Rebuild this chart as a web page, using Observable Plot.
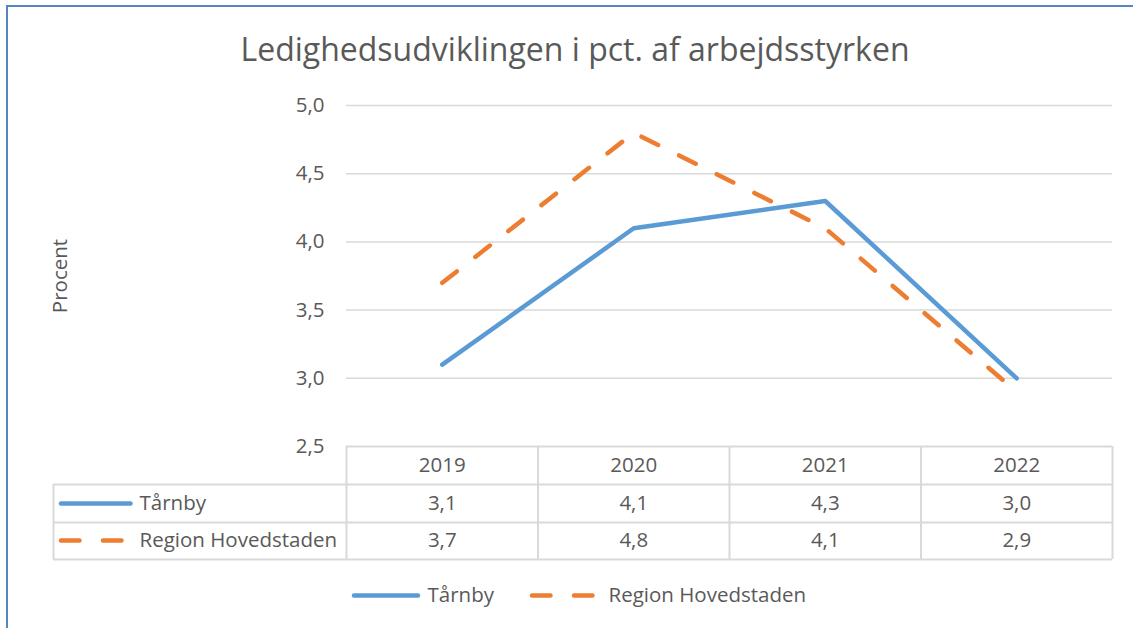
<!DOCTYPE html>
<html>
<head>
<meta charset="utf-8">
<script src="https://cdn.jsdelivr.net/npm/d3@7"></script>
<script src="https://cdn.jsdelivr.net/npm/@observablehq/plot@0.6"></script>
<style>
  html, body { margin: 0; padding: 0; background: #fff; }
  #wrap { position: relative; width: 1133px; height: 628px; overflow: hidden; font-family: "Open Sans", sans-serif; color: #595959; }
  #frame { position: absolute; left: 6px; top: 5px; width: 1200px; height: 700px; border-left: 2px solid #5585C5; border-top: 2px solid #5585C5; }
  #title { position: absolute; left: 0; width: 1150px; top: 27px; text-align: center; font-size: 32px; line-height: 44px; color: #595959; }
  #chart { position: absolute; left: 0; top: 80px; }
</style>
</head>
<body>
<div id="wrap">
  <div id="frame"></div>
  <div id="title">Ledighedsudviklingen i pct. af arbejdsstyrken</div>
  <div id="chart"></div>
</div>
<script>
const years = ["2019", "2020", "2021", "2022"];
const tarnby = [3.1, 4.1, 4.3, 3.0];
const region = [3.7, 4.8, 4.1, 2.9];
const seriesNames = ["Tårnby", "Region Hovedstaden"];
const yTicks = [2.5, 3.0, 3.5, 4.0, 4.5, 5.0];
const gridTicks = [3.0, 3.5, 4.0, 4.5, 5.0];
const yLabel = "Procent";

const blue = "#5B9BD5", orange = "#ED7D31", gridColor = "#d9d9d9", textColor = "#595959";
const fs = 20.5;
const fmt = v => d3.format(".1f")(v).replace(".", ",");

// layout (pixels)
const W = 1133, H = 548, mL = 346, mR = 21, mT = 25, mB = 182;
const yMin = 2.5, yMax = 5.0;
const pxPerX = (W - mL - mR) / years.length;
const pxPerY = (H - mB - mT) / (yMax - yMin);
const px2x = p => (p - mL) / pxPerX;          // page x pixel -> x units
const off2y = d => yMin - d / pxPerY;          // pixel offset below baseline -> y units
const rowEdges = [0, 38, 76, 113];
const rowMid = [19, 57, 94];
const tableLeft = px2x(53);
const legendDy = 149;

const series = [
  {name: seriesNames[0], values: tarnby, color: blue, dash: null},
  {name: seriesNames[1], values: region, color: orange, dash: "18.5 23.5"}
];
const rows = series.flatMap(s => s.values.map((v, i) => ({series: s.name, i: i + 0.5, year: years[i], v})));

const marks = [
  Plot.gridY(gridTicks, {stroke: gridColor, strokeOpacity: 1, strokeWidth: 1.5}),
  Plot.axisY(yTicks, {tickSize: 0, tickPadding: 22, tickFormat: fmt, fontSize: fs, fill: textColor, label: null}),
  Plot.text([yLabel], {frameAnchor: "left", dx: -286, rotate: -90, textAnchor: "middle", text: d => d, fontSize: fs, fill: textColor}),
  // table horizontal lines
  Plot.ruleY([yMin], {x1: 0, x2: years.length, stroke: gridColor, strokeWidth: 2}),
  Plot.ruleY(rowEdges.slice(1), {y: off2y, x1: tableLeft, x2: years.length, stroke: gridColor, strokeWidth: 2}),
  // table vertical lines
  Plot.ruleX(d3.range(years.length + 1), {y1: yMin, y2: off2y(rowEdges[3]), stroke: gridColor, strokeWidth: 2}),
  Plot.ruleX([tableLeft], {y1: off2y(rowEdges[1]), y2: off2y(rowEdges[3]), stroke: gridColor, strokeWidth: 2}),
  // header
  Plot.text(years, {x: (d, i) => i + 0.5, y: yMin, dy: rowMid[0], text: d => d, fontSize: fs, fill: textColor}),
  // values
  ...series.map((s, k) => Plot.text(s.values, {x: (d, i) => i + 0.5, y: yMin, dy: rowMid[k + 1], text: fmt, fontSize: fs, fill: textColor})),
  // row labels with swatches
  ...series.map((s, k) => Plot.ruleY([yMin], {x1: px2x(61), x2: px2x(130.5), dy: rowMid[k + 1], stroke: s.color, strokeWidth: 4.5, strokeLinecap: "round", strokeDasharray: s.dash})),
  ...series.map((s, k) => Plot.text([s.name], {x: px2x(139), y: yMin, dy: rowMid[k + 1], text: d => d, textAnchor: "start", fontSize: fs, fill: textColor})),
  // lines
  ...series.map(s => Plot.line(rows.filter(r => r.series === s.name), {x: "i", y: "v", stroke: s.color, strokeWidth: 4.5, strokeLinecap: "round", strokeLinejoin: "round", strokeDasharray: s.dash})),
  // bottom legend
  Plot.ruleY([yMin], {x1: px2x(354), x2: px2x(418), dy: legendDy, stroke: blue, strokeWidth: 4.5, strokeLinecap: "round"}),
  Plot.text([seriesNames[0]], {x: px2x(427), y: yMin, dy: legendDy, text: d => d, textAnchor: "start", fontSize: fs, fill: textColor}),
  Plot.ruleY([yMin], {x1: px2x(532), x2: px2x(597), dy: legendDy, stroke: orange, strokeWidth: 4.5, strokeLinecap: "round", strokeDasharray: "18.5 23.5"}),
  Plot.text([seriesNames[1]], {x: px2x(608), y: yMin, dy: legendDy, text: d => d, textAnchor: "start", fontSize: fs, fill: textColor})
];

const chart = Plot.plot({
  width: W, height: H,
  marginLeft: mL, marginRight: mR, marginTop: mT, marginBottom: mB,
  x: {type: "linear", domain: [0, years.length], axis: null},
  y: {domain: [yMin, yMax], axis: null},
  style: {fontFamily: "Open Sans, sans-serif", fontSize: fs + "px", color: textColor, background: "transparent", overflow: "visible"},
  marks
});
document.getElementById("chart").appendChild(chart);
</script>
</body>
</html>
